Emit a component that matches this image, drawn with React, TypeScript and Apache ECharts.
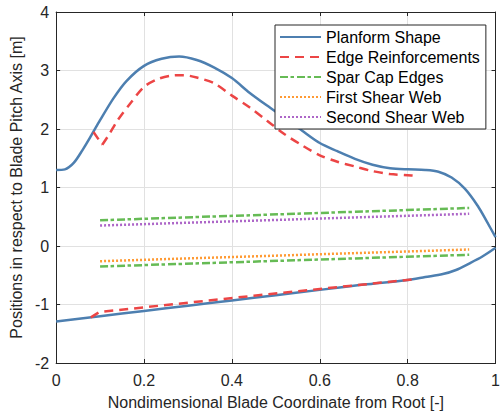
import React, { useEffect, useRef } from "react";
import * as echarts from "echarts";

// Blade layout: planform outline and structural element positions
// along the nondimensional blade span.
const planUpperX = [0, 0.02, 0.04, 0.06, 0.08, 0.1, 0.13, 0.16, 0.2, 0.24, 0.28, 0.32, 0.36, 0.4, 0.44, 0.48, 0.52, 0.56, 0.6, 0.64, 0.68, 0.72, 0.76, 0.8, 0.84, 0.87, 0.9, 0.93, 0.96, 0.98, 1.0];
const planUpperY = [1.3, 1.31, 1.42, 1.64, 1.89, 2.15, 2.52, 2.82, 3.08, 3.2, 3.24, 3.18, 3.05, 2.87, 2.62, 2.4, 2.19, 1.97, 1.76, 1.62, 1.49, 1.39, 1.33, 1.31, 1.3, 1.27, 1.17, 0.98, 0.68, 0.42, 0.15];

const planLowerX = [0, 0.1, 0.2, 0.3, 0.4, 0.5, 0.6, 0.7, 0.8, 0.84, 0.88, 0.91, 0.94, 0.97, 1.0];
const planLowerY = [-1.29, -1.2, -1.11, -1.02, -0.93, -0.84, -0.75, -0.66, -0.58, -0.53, -0.48, -0.41, -0.3, -0.18, -0.03];

// upper reinforcement: short root kink, then the main run
const edgeKinkX = [0.085, 0.105];
const edgeKinkY = [1.95, 1.73];
const edgeUpperX = [0.105, 0.12, 0.14, 0.17, 0.2, 0.23, 0.26, 0.29, 0.32, 0.36, 0.4, 0.44, 0.48, 0.52, 0.56, 0.6, 0.64, 0.68, 0.72, 0.76, 0.8, 0.82];
const edgeUpperY = [1.73, 1.9, 2.15, 2.45, 2.72, 2.85, 2.91, 2.92, 2.88, 2.78, 2.57, 2.37, 2.14, 1.91, 1.72, 1.55, 1.44, 1.36, 1.28, 1.23, 1.21, 1.2];

const edgeLowerX = [0.079, 0.098, 0.45, 0.82];
const edgeLowerY = [-1.22, -1.13, -0.85, -0.565];

const sparX = [0.1, 0.94];
const sparUpperY = [0.44, 0.65];
const sparLowerY = [-0.35, -0.15];

const webX = [0.1, 0.94];
const firstWebY = [-0.26, -0.06];
const secondWebY = [0.35, 0.55];

const xTicks = [0, 0.2, 0.4, 0.6, 0.8, 1];
const yTicks = [-2, -1, 0, 1, 2, 3, 4];

const names = [
  "Planform Shape",
  "Edge Reinforcements",
  "Spar Cap Edges",
  "First Shear Web",
  "Second Shear Web",
];

const colors = ["#4d7fb0", "#ec4545", "#66bb55", "#ff9a33", "#ad66c8"];

const zip = (xs: number[], ys: number[]) => xs.map((x, i) => [x, ys[i]]);

const FONT = "'Liberation Sans', Arial, Helvetica, sans-serif";
const INK = "#262626";

export default function App() {
  const ref = useRef<HTMLDivElement>(null);

  useEffect(() => {
    if (!ref.current) return;
    const chart = echarts.init(ref.current, undefined, { renderer: "svg" });

    const lineSeries = (
      name: string,
      data: number[][],
      color: string,
      type: any,
      smooth: number | boolean = false,
      width = 2.5
    ) => ({
      name,
      type: "line",
      data,
      smooth,
      symbol: "none",
      showSymbol: false,
      lineStyle: { color, width, type },
      itemStyle: { color },
      emphasis: { disabled: true },
      z: 3,
    });

    const axisTickCommon = {
      show: true,
      inside: true,
      length: 4,
      lineStyle: { color: INK, width: 1 },
    };

    const dashDot = [8, 2.5, 3.5, 3];

    chart.setOption({
      animation: false,
      backgroundColor: "#ffffff",
      textStyle: { fontFamily: FONT },
      grid: { left: 53, top: 12, right: 4, bottom: 54, containLabel: false },
      legend: {
        data: names,
        orient: "vertical",
        left: 275,
        top: 25,
        padding: [4, 6, 4, 4],
        itemWidth: 41,
        itemHeight: 14,
        itemGap: 4,
        backgroundColor: "#ffffff",
        borderColor: INK,
        borderWidth: 1,
        borderRadius: 0,
        itemStyle: { opacity: 0 },
        textStyle: { fontFamily: FONT, fontSize: 16, color: "#000000" },
        selectedMode: false,
      },
      xAxis: [
        {
          type: "value",
          min: 0,
          max: 1,
          interval: 0.2,
          name: "Nondimensional Blade Coordinate from Root [-]",
          nameLocation: "middle",
          nameGap: 31,
          nameTextStyle: { fontFamily: FONT, fontSize: 16, color: INK },
          axisLine: { show: true, onZero: false, lineStyle: { color: INK, width: 1 } },
          axisTick: axisTickCommon,
          axisLabel: {
            fontFamily: FONT,
            fontSize: 16,
            color: INK,
            margin: 9,
            formatter: (v: number) => (xTicks.includes(+v.toFixed(1)) ? String(+v.toFixed(1)) : ""),
          },
          splitLine: { show: true, lineStyle: { color: "#e1e1e1", width: 1 } },
        },
        {
          type: "value",
          position: "top",
          min: 0,
          max: 1,
          interval: 0.2,
          axisLine: { show: true, onZero: false, lineStyle: { color: INK, width: 1 } },
          axisTick: axisTickCommon,
          axisLabel: { show: false },
          splitLine: { show: false },
        },
      ],
      yAxis: [
        {
          type: "value",
          min: -2,
          max: 4,
          interval: 1,
          name: "Positions in respect to Blade Pitch Axis [m]",
          nameLocation: "middle",
          nameGap: 24,
          nameTextStyle: { fontFamily: FONT, fontSize: 16, color: INK },
          axisLine: { show: true, onZero: false, lineStyle: { color: INK, width: 1 } },
          axisTick: axisTickCommon,
          axisLabel: {
            fontFamily: FONT,
            fontSize: 16,
            color: INK,
            margin: 7,
            formatter: (v: number) => (yTicks.includes(v) ? String(v) : ""),
          },
          splitLine: { show: true, lineStyle: { color: "#e1e1e1", width: 1 } },
        },
        {
          type: "value",
          position: "right",
          min: -2,
          max: 4,
          interval: 1,
          axisLine: { show: true, onZero: false, lineStyle: { color: INK, width: 1 } },
          axisTick: axisTickCommon,
          axisLabel: { show: false },
          splitLine: { show: false },
        },
      ],
      series: [
        lineSeries(names[0], zip(planUpperX, planUpperY), colors[0], "solid", 0.3),
        lineSeries(names[0], zip(planLowerX, planLowerY), colors[0], "solid", 0.3),
        lineSeries(names[1], zip(edgeKinkX, edgeKinkY), colors[1], [9, 6]),
        lineSeries(names[1], zip(edgeUpperX, edgeUpperY), colors[1], [9, 6], 0.3),
        lineSeries(names[1], zip(edgeLowerX, edgeLowerY), colors[1], [9, 6]),
        lineSeries(names[2], zip(sparX, sparUpperY), colors[2], dashDot),
        lineSeries(names[2], zip(sparX, sparLowerY), colors[2], dashDot),
        lineSeries(names[3], zip(webX, firstWebY), colors[3], [2, 2]),
        lineSeries(names[4], zip(webX, secondWebY), colors[4], [2, 2]),
      ],
    });

    return () => chart.dispose();
  }, []);

  return <div ref={ref} style={{ width: 503, height: 417, position: "absolute", left: 0, top: 0 }} />;
}
